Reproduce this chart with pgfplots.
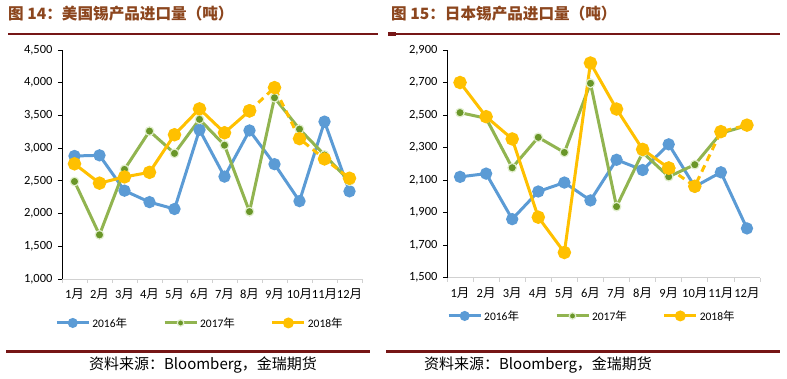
\documentclass[border=0pt]{standalone}
\usepackage{fontspec}
\setmainfont{Carlito}
\newfontfamily\cjk{Noto Sans CJK SC}
\usepackage{pgfplots}
\pgfplotsset{compat=1.18}
\definecolor{c16}{RGB}{91,155,213}
\definecolor{c17}{RGB}{145,180,80}
\definecolor{c17m}{RGB}{105,150,40}
\definecolor{c17e}{RGB}{225,238,205}
\definecolor{c18}{RGB}{255,192,0}
\definecolor{titlec}{RGB}{140,70,30}
\definecolor{rulec}{RGB}{118,22,22}
\newcommand\yue{{\cjk 月}}
\newcommand\nian{{\cjk 年}}
\pgfplotsset{
 mychart/.style={
  scale only axis,
  anchor=south west,
  xmin=0.5, xmax=12.5,
  axis x line*=bottom, axis y line*=left,
  x axis line style={draw=black!18, line width=0.8pt},
  y axis line style={draw=black, line width=0.8pt},
  xtick={1,...,12},
  xticklabels={1\yue,2\yue,3\yue,4\yue,5\yue,6\yue,7\yue,8\yue,9\yue,10\yue,11\yue,12\yue},
  major x tick style={draw=none},
  minor xtick={0.5,1.5,...,12.5},
  minor x tick style={draw=black!18, line width=0.8pt},
  minor tick length=4pt,
  major tick length=4pt,
  tick align=outside,
  major y tick style={draw=black, line width=0.8pt},
  tick label style={font=\fontsize{12.5}{14}\selectfont},
  xticklabel style={yshift=-2pt},
  yticklabel style={xshift=-2pt},
  /pgf/number format/1000 sep={,},
  /pgf/number format/assume math mode=true,
  legend style={draw=none, fill=none, font=\fontsize{11.5}{13}\selectfont,
    /tikz/every even column/.append style={column sep=34pt}, anchor=center,
    inner sep=0pt},
  legend columns=3,
  legend cell align=left,
  legend image code/.code={\draw[#1,mark repeat=2,mark phase=2,every mark/.append style={scale=0.75}] plot coordinates {(0pt,0pt) (16pt,0pt) (32pt,0pt)};},
  s16/.style={c16, line width=3pt, mark=*, mark size=4.6pt},
  s17/.style={c17, line width=3pt, mark=*, mark size=4.3pt, mark options={fill=c17m, draw=c17e, line width=1.2pt}},
  s18/.style={c18, line width=3pt, mark=*, mark size=5.2pt},
  s18d/.style={c18, line width=3pt, dash pattern=on 7pt off 5pt, mark=*, mark size=5.2pt, mark options={solid}, forget plot},
 }
}
\begin{document}
\begin{tikzpicture}
\useasboundingbox (0,0) rectangle (787pt,379pt);
% titles
\node[anchor=west, text=titlec, font=\cjk\bfseries\fontsize{15.6}{17}\selectfont, inner sep=0pt] at (8pt,365pt) {图 14：美国锡产品进口量（吨）};
\node[anchor=west, text=titlec, font=\cjk\bfseries\fontsize{15.6}{17}\selectfont, inner sep=0pt] at (391pt,365pt) {图 15：日本锡产品进口量（吨）};
\draw[rulec, line width=2.2pt] (8pt,345pt) -- (378pt,345pt);
\draw[rulec, line width=2.2pt] (388pt,345pt) -- (780pt,345pt);
\draw[rulec, line width=3.5pt] (388pt,345pt) -- (396pt,345pt);
\draw[rulec, line width=2.8pt] (6pt,27.3pt) -- (370pt,27.3pt);
\draw[rulec, line width=2.8pt] (386pt,27.3pt) -- (780pt,27.3pt);
\node[font=\cjk\fontsize{15}{17}\selectfont, inner sep=0pt] at (203pt,14pt) {资料来源：Bloomberg，金瑞期货};
\node[font=\cjk\fontsize{15}{17}\selectfont, inner sep=0pt] at (538pt,14pt) {资料来源：Bloomberg，金瑞期货};

\begin{axis}[mychart, at={(62pt,100pt)}, width=300pt, height=229pt,
  ymin=1000, ymax=4500, ytick={1000,1500,...,4500},
  legend style={at={(0.46,-0.192)}}]
\addplot[s16] coordinates {(1,2880) (2,2890) (3,2350) (4,2175) (5,2070) (6,3280) (7,2565) (8,3270) (9,2755) (10,2190) (11,3405) (12,2340)};
\addlegendentry{2016\nian}
\addplot[s17] coordinates {(1,2490) (2,1675) (3,2675) (4,3260) (5,2920) (6,3440) (7,3045) (8,2030) (9,3770) (10,3290) (11,2895) (12,2495)};
\addlegendentry{2017\nian}
\addplot[s18] coordinates {(1,2760) (2,2465) (3,2560) (4,2630) (5,3205) (6,3600) (7,3235) (8,3570)};
\addlegendentry{2018\nian}
\addplot[s18d] coordinates {(8,3570) (9,3925) (10,3145) (11,2835) (12,2540)};
\end{axis}

\begin{axis}[mychart, at={(447pt,101.3pt)}, width=313pt, height=227.7pt,
  ymin=1500, ymax=2900, ytick={1500,1700,...,2900},
  legend style={at={(0.463,-0.168)}}]
\addplot[s16] coordinates {(1,2120) (2,2140) (3,1860) (4,2030) (5,2085) (6,1975) (7,2225) (8,2162) (9,2320) (10,2060) (11,2148) (12,1803)};
\addlegendentry{2016\nian}
\addplot[s17] coordinates {(1,2515) (2,2480) (3,2176) (4,2363) (5,2270) (6,2695) (7,1937) (8,2270) (9,2121) (10,2195) (11,2388) (12,2435)};
\addlegendentry{2017\nian}
\addplot[s18] coordinates {(1,2700) (2,2490) (3,2353) (4,1872) (5,1655) (6,2820) (7,2537) (8,2289) (9,2174)};
\addlegendentry{2018\nian}
\addplot[s18d] coordinates {(9,2174) (10,2062) (11,2398) (12,2438)};
\end{axis}
\end{tikzpicture}
\end{document}
